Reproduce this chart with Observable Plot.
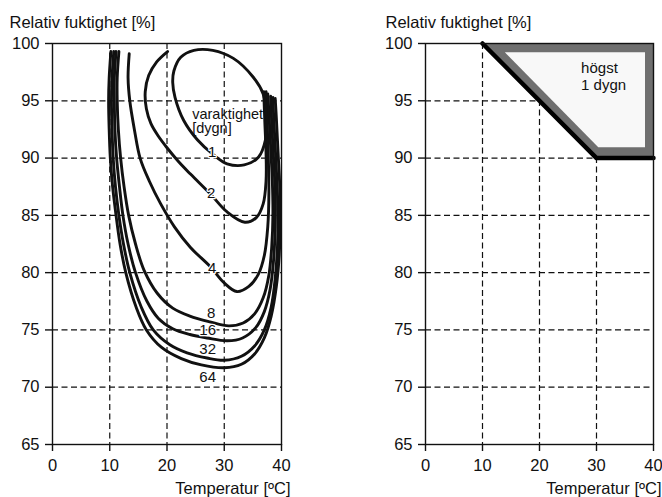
<!DOCTYPE html>
<html><head><meta charset="utf-8">
<script src="https://cdn.jsdelivr.net/npm/d3@7"></script>
<script src="https://cdn.jsdelivr.net/npm/@observablehq/plot@0.6"></script>
<style>
body{margin:0;background:#fff;}
#wrap{position:relative;width:662px;height:497px;overflow:hidden;background:#fff;}
#left,#right{position:absolute;top:0;}
#left{left:0;}
#right{left:331px;}
</style></head><body>
<div id="wrap"><div id="left"></div><div id="right"></div></div>
<script>
// Axis ticks
const xTicks = [0, 10, 20, 30, 40];
const yTicks = [65, 70, 75, 80, 85, 90, 95, 100];
const xGrid = [10, 20, 30];
const yGrid = [70, 75, 80, 85, 90, 95];

// Left panel: isolines of duration (days), [temperature °C, RH %]
const curve1 = [[21.2,97.6],[22.4,98.8],[24.7,99.4],[28.0,99.4],[31.6,98.7],[35.0,97.1],[36.8,95.6],[37.4,93.6],[37.2,91.6],[36.0,90.1],[33.5,89.4],[30.5,89.5],[28.1,90.3],[25.3,91.6],[22.9,93.3],[21.4,95.3],[21.0,96.6]];
const curve2 = [[20.1,99.3],[18.2,98.4],[16.8,97.2],[16.2,95.8],[16.4,94.3],[17.2,93.0],[18.5,91.9],[20.0,90.9],[22.0,89.7],[24.1,88.6],[27.7,86.8],[30.5,85.3],[33.6,84.4],[35.6,84.8],[36.8,86.0],[37.3,88.0],[37.3,90.5],[37.1,93.0],[36.9,95.8]];
const curve4 = [[13.4,99.1],[13.2,97.0],[13.5,95.0],[14.3,92.5],[15.3,90.0],[16.9,88.0],[18.9,86.0],[21.3,84.0],[24.1,82.2],[27.6,80.5],[30.0,79.1],[32.2,78.35],[34.3,78.8],[35.9,79.8],[37.0,81.5],[37.6,84.0],[37.8,87.0],[37.7,90.0],[37.5,93.0],[37.3,95.8]];
const curve8 = [[11.6,99.3],[11.3,97.0],[11.3,95.0],[11.5,92.5],[11.9,90.0],[12.5,87.5],[13.3,85.0],[14.5,82.5],[16.0,80.2],[18.3,78.2],[21.0,76.9],[24.0,76.2],[27.5,75.7],[30.8,75.35],[33.3,75.6],[35.3,76.4],[36.8,77.8],[37.8,79.8],[38.3,82.3],[38.5,85.0],[38.4,88.0],[38.1,91.0],[37.8,94.0],[37.6,95.6]];
const curve16 = [[11.1,99.3],[10.8,97.0],[10.8,95.0],[10.9,92.5],[11.2,90.0],[11.7,87.5],[12.3,85.0],[13.2,82.5],[14.5,80.0],[16.5,77.5],[18.5,76.0],[21.0,75.1],[24.0,74.6],[27.0,74.3],[30.5,74.05],[33.2,74.3],[35.5,75.2],[37.0,76.6],[38.0,78.5],[38.6,81.0],[38.9,84.0],[38.9,87.0],[38.6,90.0],[38.3,93.0],[38.1,95.4]];
const curve32 = [[10.7,99.3],[10.4,97.0],[10.3,95.0],[10.4,92.5],[10.6,90.0],[11.0,87.5],[11.6,85.0],[12.4,82.5],[13.5,80.0],[15.5,77.0],[17.6,75.0],[20.5,73.7],[23.5,73.0],[27.0,72.55],[30.0,72.35],[33.0,72.7],[35.3,73.6],[37.0,75.0],[38.2,77.0],[38.9,79.5],[39.3,82.3],[39.4,85.0],[39.2,88.0],[38.9,91.0],[38.6,94.0],[38.5,95.3]];
const curve64 = [[10.2,99.3],[9.9,97.0],[9.8,95.0],[9.9,92.5],[10.1,90.0],[10.5,87.5],[11.1,85.0],[11.8,82.5],[12.8,80.0],[14.6,77.0],[16.4,75.0],[19.0,73.5],[22.5,72.5],[26.0,71.95],[30.0,71.7],[33.0,72.0],[35.3,72.9],[37.0,74.3],[38.2,76.2],[39.1,78.8],[39.6,81.5],[39.8,84.5],[39.7,87.5],[39.4,90.5],[39.1,93.5],[38.9,95.2]];

// Curve labels
const labelText = ["1", "2", "4", "8", "16", "32", "64"];
const labelT    = [27.9, 27.7, 27.9, 27.7, 27.1, 27.1, 27.1];
const labelRH   = [90.5, 86.9, 80.35, 76.5, 75.0, 73.3, 70.9];
const noteLines = ["varaktighet", "[dygn]"];
const noteT = [24.4, 24.4];
const noteRH = [93.85, 92.55];

// Right panel: zone of at most 1 day
const zoneT = [10, 30, 40];
const zoneLow = [100, 90, 90];
const zoneHigh = [100, 100, 100];
const innerT = [14, 30.4, 38.6];
const innerLow = [99.2, 90.9, 90.9];
const innerHigh = [99.2, 99.2, 99.2];
const limitT = [10, 30, 40];
const limitRH = [100, 90, 90];
const zoneText = ["högst", "1 dygn"];
const zoneTextT = [27.3, 27.3];
const zoneTextRH = [97.4, 95.9];

const FONT = '"Liberation Sans", Arial, Helvetica, sans-serif';
const INK = "#111";

function base() {
  return [
    Plot.gridX(xGrid, {stroke: INK, strokeOpacity: 1, strokeWidth: 1.2, strokeDasharray: "6,3.5"}),
    Plot.gridY(yGrid, {stroke: INK, strokeOpacity: 1, strokeWidth: 1.2, strokeDasharray: "6,3.5"})
  ];
}
function overlay(dxTitle, dxLabel) {
  return [
    Plot.frame({stroke: INK, strokeWidth: 1.4}),
    Plot.axisX(xTicks, {tickSize: 7, tickPadding: 8, label: null, strokeWidth: 1.4}),
    Plot.axisY(yTicks, {tickSize: 7, tickPadding: 6, label: null, strokeWidth: 1.4}),
    Plot.text(["Relativ fuktighet [%]"], {frameAnchor: "top-left", dx: dxTitle, dy: -16, textAnchor: "start", lineAnchor: "bottom", fontSize: 16.5, fill: INK}),
    Plot.text(["Temperatur [ºC]"], {frameAnchor: "bottom-right", dx: dxLabel, dy: 49, textAnchor: "end", lineAnchor: "bottom", fontSize: 16.5, fill: INK})
  ];
}

const curves = [curve1, curve2, curve4, curve8, curve16, curve32, curve64];
const rows = [];
curves.forEach((c, i) => { if (i > 0) c.forEach(([t, rh]) => rows.push({T: t, RH: rh, d: labelText[i]})); });
const loop = curve1.map(([t, rh]) => ({T: t, RH: rh}));
const labels = labelText.map((s, i) => ({s, T: labelT[i], RH: labelRH[i]}));
const notes = noteLines.map((s, i) => ({s, T: noteT[i], RH: noteRH[i]}));

const common = {
  width: 331, height: 497, marginTop: 43, marginBottom: 53,
  x: {domain: [0, 40]}, y: {domain: [65, 100]},
  style: {fontSize: "16.5px", fontFamily: FONT, color: INK, background: "white"}
};

const left = Plot.plot({
  ...common, marginLeft: 52, marginRight: 50,
  marks: [
    ...base(),
    Plot.line(rows, {x: "T", y: "RH", z: "d", curve: "catmull-rom", stroke: INK, strokeWidth: 2.9}),
    Plot.line(loop, {x: "T", y: "RH", curve: "catmull-rom-closed", stroke: INK, strokeWidth: 2.9}),
    Plot.text(labels, {x: "T", y: "RH", text: "s", fontSize: 15, fill: INK, stroke: "white", strokeWidth: 2.5, lineAnchor: "middle"}),
    Plot.text(notes, {x: "T", y: "RH", text: "s", fontSize: 14.5, fill: INK, textAnchor: "start", lineAnchor: "middle"}),
    ...overlay(-43, 9)
  ]
});

const zone = zoneT.map((t, i) => ({T: t, lo: zoneLow[i], hi: zoneHigh[i]}));
const inner = innerT.map((t, i) => ({T: t, lo: innerLow[i], hi: innerHigh[i]}));
const limit = limitT.map((t, i) => ({T: t, RH: limitRH[i]}));
const ztext = zoneText.map((s, i) => ({s, T: zoneTextT[i], RH: zoneTextRH[i]}));

const right = Plot.plot({
  ...common, marginLeft: 94, marginRight: 9,
  marks: [
    ...base(),
    Plot.areaY(zone, {x: "T", y1: "lo", y2: "hi", fill: "#6f6f6f"}),
    Plot.areaY(inner, {x: "T", y1: "lo", y2: "hi", fill: "#f8f8f8"}),
    Plot.line(limit, {x: "T", y: "RH", stroke: "#000", strokeWidth: 4.5}),
    Plot.text(ztext, {x: "T", y: "RH", text: "s", fontSize: 15, fill: INK, textAnchor: "start", lineAnchor: "bottom"}),
    ...overlay(-40, 8)
  ]
});

document.getElementById("left").appendChild(left);
document.getElementById("right").appendChild(right);
</script>
</body></html>
